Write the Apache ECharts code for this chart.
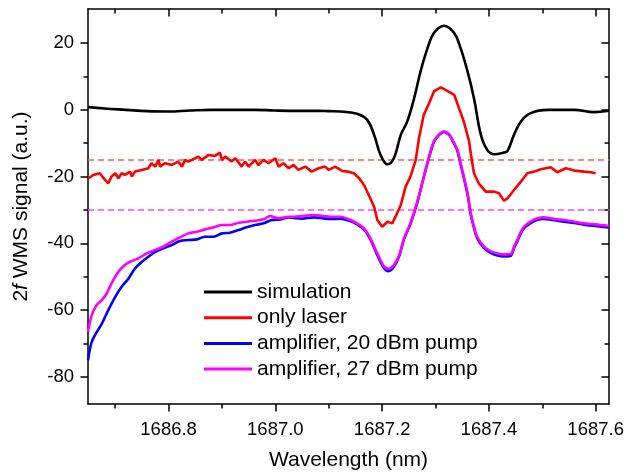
<!DOCTYPE html>
<html><head><meta charset="utf-8">
<script src="https://cdn.jsdelivr.net/npm/echarts@6/dist/echarts.min.js"></script>
<style>html,body{margin:0;padding:0;background:#fff}#c{width:627px;height:475px}</style>
</head><body><div id="c"></div>
<script>
// ---- data ----
const seriesNames = ['simulation', 'only laser', 'amplifier, 20 dBm pump', 'amplifier, 27 dBm pump'];
const xMajorTicks = [1686.8, 1687.0, 1687.2, 1687.4, 1687.6];
const xMinorTicks = [1686.7, 1686.9, 1687.1, 1687.3, 1687.5];
const yMajorTicks = [-80, -60, -40, -20, 0, 20];
const yMinorTicks = [-70, -50, -30, -10, 10];
const refLines = [-15, -30];

const simX = [1686.649,1686.68,1686.72,1686.76,1686.80,1686.84,1686.88,1686.92,1686.96,1687.00,1687.04,1687.08,1687.10,1687.122,1687.153,1687.172,1687.185,1687.197,1687.210,1687.222,1687.235,1687.247,1687.260,1687.272,1687.285,1687.297,1687.316,1687.335,1687.347,1687.360,1687.372,1687.385,1687.397,1687.410,1687.428,1687.435,1687.447,1687.460,1687.478,1687.510,1687.560,1687.597,1687.625];
const simY = [0.8,0.4,0,-0.4,-0.5,-0.2,0,0,0,-0.2,-0.3,-0.3,-0.4,-0.5,-1.2,-3,-7.5,-13.5,-16.3,-14.5,-7.5,-3.5,3.5,11.5,18.5,23,25.2,23,18.5,11.5,3.5,-7.5,-12,-13.3,-12.8,-12.3,-7.5,-3.5,-1,0,0,-0.7,-0.3];

const laserX = [1686.650,1686.659,1686.671,1686.681,1686.687,1686.693,1686.700,1686.706,1686.712,1686.718,1686.728,1686.731,1686.737,1686.750,1686.762,1686.768,1686.775,1686.781,1686.784,1686.793,1686.806,1686.818,1686.825,1686.831,1686.837,1686.850,1686.856,1686.862,1686.875,1686.887,1686.896,1686.900,1686.906,1686.918,1686.925,1686.937,1686.943,1686.950,1686.962,1686.968,1686.978,1686.987,1687.000,1687.006,1687.015,1687.025,1687.034,1687.043,1687.056,1687.068,1687.081,1687.093,1687.100,1687.112,1687.125,1687.135,1687.147,1687.157,1687.166,1687.175,1687.185,1687.191,1687.200,1687.210,1687.219,1687.225,1687.235,1687.244,1687.253,1687.263,1687.269,1687.278,1687.288,1687.297,1687.310,1687.322,1687.335,1687.344,1687.353,1687.363,1687.366,1687.372,1687.381,1687.394,1687.410,1687.419,1687.428,1687.435,1687.447,1687.460,1687.472,1687.485,1687.497,1687.516,1687.528,1687.544,1687.560,1687.578,1687.591,1687.600];
const laserY = [-20.5,-19.5,-19,-21,-22,-20,-19,-20.5,-19,-19.5,-18.5,-20,-18.5,-18,-17.5,-16,-17,-15,-17,-16,-16.5,-15.5,-17,-15,-15.5,-14.5,-14,-15,-13.5,-13.8,-12.8,-15,-14,-15.5,-14.5,-17,-15.5,-17,-15,-16.5,-15,-16,-14.5,-17,-16,-17.5,-16.5,-18,-17,-18.5,-17.5,-17,-18,-17,-18.3,-18.5,-19,-20.5,-22.5,-25.5,-29,-33,-35,-33.5,-34,-32,-28.5,-23,-20,-15,-8.5,-1.5,2,5.5,6.7,5.7,4.5,0.5,-3.5,-9.5,-13,-19,-22,-24.5,-24.5,-25,-27.2,-26.5,-24,-21.5,-19,-18.5,-17.8,-17.2,-18.7,-17.5,-18.2,-18.5,-18.7,-19];

const amp20X = [1686.649,1686.655,1686.662,1686.675,1686.687,1686.700,1686.712,1686.725,1686.737,1686.750,1686.762,1686.775,1686.790,1686.806,1686.821,1686.837,1686.853,1686.868,1686.884,1686.900,1686.915,1686.931,1686.946,1686.962,1686.978,1686.993,1687.009,1687.025,1687.035,1687.050,1687.072,1687.090,1687.103,1687.122,1687.141,1687.153,1687.166,1687.178,1687.191,1687.203,1687.212,1687.222,1687.232,1687.241,1687.253,1687.266,1687.278,1687.288,1687.297,1687.306,1687.316,1687.326,1687.335,1687.341,1687.347,1687.353,1687.360,1687.366,1687.372,1687.378,1687.391,1687.403,1687.416,1687.428,1687.441,1687.447,1687.453,1687.460,1687.466,1687.478,1687.491,1687.503,1687.516,1687.528,1687.541,1687.560,1687.578,1687.600,1687.624];
const amp20Y = [-75,-70,-67.5,-64,-60,-56,-53,-50.5,-47.5,-45.5,-44,-42.5,-41.5,-40.5,-39.3,-39,-38.8,-38,-38,-37,-36.8,-36,-35.2,-34.5,-34,-33,-32.8,-32.2,-32.4,-32.6,-32.2,-32.5,-32.7,-32.6,-33.4,-34.3,-35.8,-38.8,-43.5,-47.3,-48.3,-47.0,-43.8,-38.7,-34.2,-27.7,-20.2,-14.2,-9.6,-7.6,-6.6,-7.6,-10.2,-12.3,-16.3,-20.3,-25.3,-31.3,-35.3,-38.4,-41.4,-42.8,-43.6,-43.9,-43.7,-41.4,-39.4,-36.9,-35.4,-33.9,-32.9,-32.7,-32.9,-33.2,-33.5,-33.9,-34.4,-34.8,-35.2];

const amp27X = [1686.649,1686.656,1686.665,1686.675,1686.684,1686.693,1686.706,1686.718,1686.728,1686.743,1686.759,1686.775,1686.790,1686.806,1686.821,1686.837,1686.853,1686.868,1686.884,1686.900,1686.915,1686.931,1686.946,1686.962,1686.978,1686.990,1687.006,1687.025,1687.035,1687.050,1687.072,1687.090,1687.103,1687.122,1687.141,1687.153,1687.166,1687.178,1687.191,1687.203,1687.212,1687.222,1687.232,1687.241,1687.253,1687.266,1687.278,1687.288,1687.297,1687.306,1687.316,1687.326,1687.335,1687.341,1687.347,1687.353,1687.360,1687.366,1687.372,1687.378,1687.391,1687.403,1687.416,1687.428,1687.441,1687.447,1687.453,1687.460,1687.466,1687.478,1687.491,1687.503,1687.516,1687.528,1687.541,1687.560,1687.578,1687.600,1687.624];
const amp27Y = [-66.5,-61.5,-58.5,-57,-55,-52,-48.5,-46.5,-45.5,-44.5,-43,-42,-41,-39.5,-38.2,-37,-36.5,-35.8,-35.2,-34.5,-34.5,-33.8,-33.5,-33.2,-32.8,-31.8,-32.5,-32,-32,-31.8,-31.5,-31.8,-32,-32,-33,-34,-35.5,-38.5,-43,-46.8,-47.6,-46.5,-43.5,-38.5,-34,-27.5,-20,-14,-9.5,-7.5,-6.5,-7.5,-10,-12,-16,-20,-25,-31,-35,-38,-41,-42.3,-43,-43.3,-43.2,-41,-39,-36.5,-35,-33.5,-32.5,-32.2,-32.5,-32.8,-33,-33.5,-34,-34.3,-34.8];

const xMin = 1686.649, xMax = 1687.625, yMin = -88.1, yMax = 30.2;
const colors = ['#000000', '#ff0000', '#0000ff', '#ff00ff'];
const refColors = ['#ff5a5a', '#ff44ff'];
const smoothness = [0.4, 0, 0.3, 0.3];

// ---- chart ----
const FONT = '"Liberation Sans", Arial, Helvetica, sans-serif';
const zip = (xs, ys) => xs.map((x, i) => [x, ys[i]]);
const allX = [simX, laserX, amp20X, amp27X];
const allY = [simY, laserY, amp20Y, amp27Y];

function axis(kind, pos, ticks, len, inside, opts) {
  const isX = kind === 'x';
  return Object.assign({
    type: 'value', position: pos,
    min: isX ? xMin : yMin, max: isX ? xMax : yMax,
    axisLine: { show: false, onZero: false, lineStyle: { color: '#000', width: 1.5 } },
    axisTick: { show: true, inside: inside, length: len, customValues: ticks, lineStyle: { color: '#000', width: 1.5 } },
    axisLabel: { show: false },
    splitLine: { show: false }
  }, opts || {});
}

const xAxes = [
  axis('x', 'bottom', xMajorTicks, 7.5, false, {
    axisLine: { show: true, onZero: false, lineStyle: { color: '#000', width: 1.5 } },
    axisLabel: { show: true, customValues: xMajorTicks, margin: 16, color: '#000', fontSize: 18.5, fontFamily: FONT, formatter: v => v.toFixed(1) },
    name: 'Wavelength (nm)', nameLocation: 'middle', nameGap: 46,
    nameTextStyle: { fontSize: 21, fontFamily: FONT, color: '#000' }
  }),
  axis('x', 'bottom', xMinorTicks, 4.5, false),
  axis('x', 'top', xMajorTicks, 7.5, true, { axisLine: { show: true, onZero: false, lineStyle: { color: '#000', width: 1.5 } } }),
  axis('x', 'top', xMinorTicks, 4.5, true)
];
const yAxes = [
  axis('y', 'left', yMajorTicks, 7.5, false, {
    axisLine: { show: true, onZero: false, lineStyle: { color: '#000', width: 1.5 } },
    axisLabel: { show: true, customValues: yMajorTicks, margin: 14, color: '#000', fontSize: 18.5, fontFamily: FONT },
    name: '{a|2}{i|f}{a| WMS signal (a.u.)}', nameLocation: 'middle', nameGap: 56,
    nameTextStyle: { fontSize: 21, fontFamily: FONT, color: '#000',
      rich: { a: { fontSize: 21, fontFamily: FONT, color: '#000' }, i: { fontSize: 21, fontFamily: FONT, fontStyle: 'italic', color: '#000' } } }
  }),
  axis('y', 'left', yMinorTicks, 4.5, false),
  axis('y', 'right', yMajorTicks, 7.5, true, { axisLine: { show: true, onZero: false, lineStyle: { color: '#000', width: 1.5 } } }),
  axis('y', 'right', yMinorTicks, 4.5, true)
];

const series = seriesNames.map((name, i) => {
  const s = {
    name: name, type: 'line', xAxisIndex: 0, yAxisIndex: 0,
    data: zip(allX[i], allY[i]),
    showSymbol: false, symbol: 'none', smooth: smoothness[i] || false,
    lineStyle: { color: colors[i], width: 2.6 }, itemStyle: { color: colors[i] },
    z: 2 + i
  };
  if (i === 1 || i === 3) {
    const k = i === 1 ? 0 : 1;
    s.markLine = {
      silent: true, symbol: ['none', 'none'], label: { show: false },
      lineStyle: { type: [6, 4], color: refColors[k], width: 1.5 },
      data: [{ yAxis: refLines[k] }], z: 1
    };
  }
  return s;
});

const chart = echarts.init(document.getElementById('c'), null, { renderer: 'canvas' });
chart.setOption({
  animation: false,
  backgroundColor: '#fff',
  grid: { left: 88, right: 18, top: 9, bottom: 71, containLabel: false, outerBoundsMode: 'none' },
  xAxis: xAxes,
  yAxis: yAxes,
  legend: {
    orient: 'vertical', left: 204, top: 281, padding: 0, icon: 'rect', itemWidth: 48, itemHeight: 3,
    itemGap: 3.7, data: seriesNames,
    textStyle: { fontSize: 21, fontFamily: FONT, color: '#000', lineHeight: 22 }
  },
  series: series
});
</script></body></html>
